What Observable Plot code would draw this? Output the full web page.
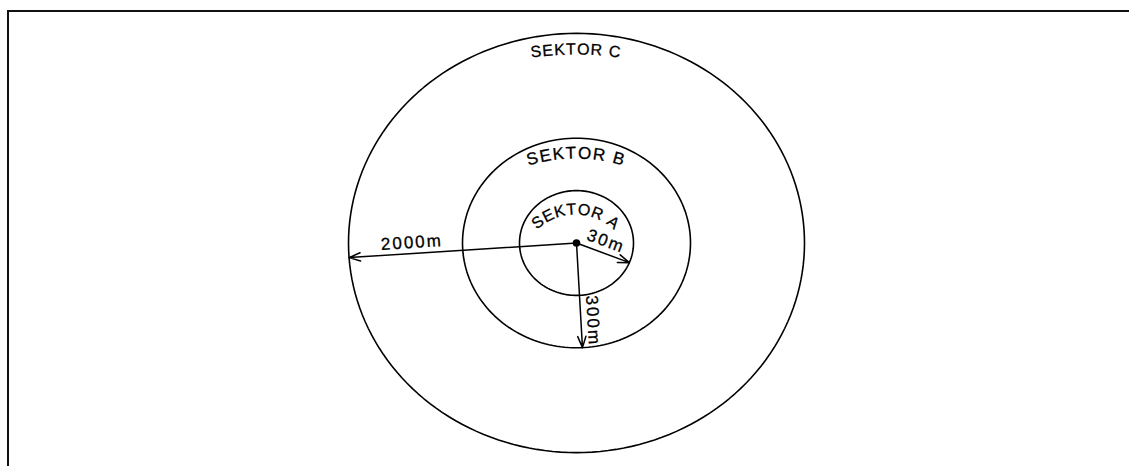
<!DOCTYPE html>
<html><head><meta charset="utf-8">
<script src="https://cdn.jsdelivr.net/npm/d3@7"></script>
<script src="https://cdn.jsdelivr.net/npm/@observablehq/plot@0.6"></script>
<style>
html,body{margin:0;padding:0;background:#fff;overflow:hidden;}
#wrap{position:relative;width:1131px;height:466px;overflow:hidden;background:#fff;}
#chart{position:absolute;left:0;top:0;z-index:1;}
.fr{position:absolute;background:#111;z-index:2;pointer-events:none;}
#frTop{left:7px;top:10px;width:1122px;height:2px;}
#frLeft{left:7px;top:10px;width:2px;height:456px;}
</style></head><body>
<div id="wrap"><div id="chart"></div><div class="fr" id="frTop"></div><div class="fr" id="frLeft"></div></div>
<script>
// ---- data ----
const sectors = ["SEKTOR A", "SEKTOR B", "SEKTOR C"];
const ringRadius = [1, 2, 4];               // schematic ring sizes (relative)
const distanceLabels = ["30m", "300m", "2000m"];
const arrowAngles = [-22, -87, -176];       // direction of each radius arrow (degrees)

// ---- layout ----
const W = 1131, H = 466;
const CX = 576, CY = 242.5;                 // centre in pixels
const KX = 57, KY = 52.4;                   // pixels per ring unit (x, y)
const FONT = '"Liberation Sans", Arial, sans-serif';
const labelT = [0.46, 0.74, 0.725];         // position of distance label along arrow
const labelOff = [12, 12, 11];              // offset of distance label from arrow (px)
const distFs = 17, distLs = 2;
const arcTop = [214, 158, 54];              // baseline top of curved sector label (px)
const arcR = [56, 158, 320];                // curvature radius of sector label (px)
const arcFs = [16, 17, 16];
const arcLs = [0.6, 1.4, 1];
const arcCx = 575;

const rad = Math.PI / 180;

const ringPts = [];
sectors.forEach((s, i) => {
  for (let a = 0; a <= 360; a += 2) {
    ringPts.push({sector: s, x: ringRadius[i] * Math.cos(a * rad), y: ringRadius[i] * Math.sin(a * rad)});
  }
});

const arrows = sectors.map((s, i) => ({
  x1: 0, y1: 0,
  x2: ringRadius[i] * Math.cos(arrowAngles[i] * rad),
  y2: ringRadius[i] * Math.sin(arrowAngles[i] * rad)
}));

const ctx = document.createElement("canvas").getContext("2d");

const distLetters = [];
sectors.forEach((s, i) => {
  const a = arrowAngles[i] * rad;
  const dxp = ringRadius[i] * Math.cos(a) * KX, dyp = -ringRadius[i] * Math.sin(a) * KY;
  let rot = Math.atan2(dyp, dxp) / rad;
  if (rot > 90) rot -= 180; else if (rot < -90) rot += 180;
  const dir = [Math.cos(rot * rad), Math.sin(rot * rad)];
  const up = [Math.sin(rot * rad), -Math.cos(rot * rad)];
  const cx = labelT[i] * dxp + labelOff[i] * up[0];
  const cy = labelT[i] * dyp + labelOff[i] * up[1];
  ctx.font = `${distFs}px "Liberation Sans"`;
  const chars = [...distanceLabels[i]];
  const ws = chars.map(c => ctx.measureText(c).width);
  const total = d3.sum(ws) + distLs * (chars.length - 1);
  let acc = 0;
  chars.forEach((c, j) => {
    const off = acc + ws[j] / 2 - total / 2;
    acc += ws[j] + distLs;
    const px = cx + off * dir[0], py = cy + off * dir[1];
    distLetters.push({c, rot, x: px / KX, y: -py / KY});
  });
});

const letters = [];
sectors.forEach((s, i) => {
  const fs = arcFs[i], ls = arcLs[i], R = arcR[i];
  ctx.font = `${fs}px "Liberation Sans"`;
  const chars = [...s];
  const ws = chars.map(c => ctx.measureText(c).width);
  const total = d3.sum(ws) + ls * (chars.length - 1);
  const ccy = arcTop[i] + R;
  let acc = 0;
  chars.forEach((c, j) => {
    const mid = acc + ws[j] / 2;
    acc += ws[j] + ls;
    if (c === " ") return;
    const th = (mid - total / 2) / R;
    const rho = R + 0.32 * fs;
    const px = arcCx + rho * Math.sin(th), py = ccy - rho * Math.cos(th);
    letters.push({c, fs, rot: th / rad, x: (px - CX) / KX, y: (CY - py) / KY});
  });
});

const chart = Plot.plot({
  width: W, height: H,
  margin: 0,
  x: {domain: [-CX / KX, (W - CX) / KX], axis: null},
  y: {domain: [-(H - CY) / KY, CY / KY], axis: null},
  style: {fontFamily: FONT, background: "transparent", color: "#000"},
  marks: [
    Plot.line(ringPts, {x: "x", y: "y", z: "sector", stroke: "#000", strokeWidth: 1.6}),
    Plot.arrow(arrows, {x1: "x1", y1: "y1", x2: "x2", y2: "y2", stroke: "#000", strokeWidth: 1.5, headLength: 12, headAngle: 40}),
    Plot.dot([{x: 0, y: 0}], {x: "x", y: "y", r: 3.8, fill: "#000"}),
    Plot.text(distLetters, {x: "x", y: "y", text: "c", rotate: "rot", fontSize: distFs, fill: "#000", stroke: "#000", strokeWidth: 0.3, textAnchor: "middle", lineAnchor: "middle"}),
    Plot.text(letters, {x: "x", y: "y", text: "c", rotate: "rot", fontSize: d => d.fs, fill: "#000", stroke: "#000", strokeWidth: 0.3, textAnchor: "middle", lineAnchor: "middle"})
  ]
});
document.getElementById("chart").appendChild(chart);
</script>
</body></html>
